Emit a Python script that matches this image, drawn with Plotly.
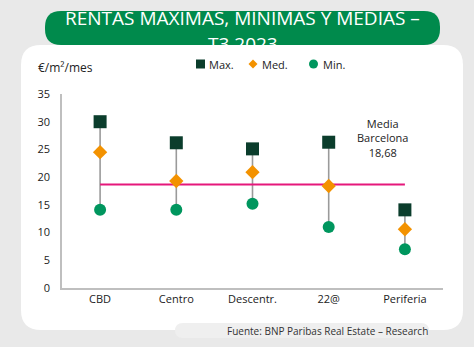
import plotly.graph_objects as go

W, H = 474, 347

categories = ["CBD", "Centro", "Descentr.", "22@", "Periferia"]
max_vals = [30.0, 26.2, 25.1, 26.3, 14.1]
med_vals = [24.5, 19.3, 20.9, 18.4, 10.6]
min_vals = [14.1, 14.1, 15.2, 11.0, 7.0]
media_bcn = 18.68
y_ticks = [0, 5, 10, 15, 20, 25, 30, 35]
series_names = ["Max.", "Med.", "Min."]

C_MAX = "#0b3d2c"
C_MED = "#f39200"
C_MIN = "#00965e"
C_LINE = "#e5177b"
C_GRAY = "#9a9a9a"


def px(x):
    return x / W


def py(y):
    return 1 - y / H


def rrect(x0, y0, x1, y1, r):
    X0, X1 = px(x0), px(x1)
    Y0, Y1 = py(y0), py(y1)
    rx, ry = r / W, r / H
    return (f"M {X0+rx},{Y0} L {X1-rx},{Y0} Q {X1},{Y0} {X1},{Y0-ry} "
            f"L {X1},{Y1+ry} Q {X1},{Y1} {X1-rx},{Y1} L {X0+rx},{Y1} "
            f"Q {X0},{Y1} {X0},{Y1+ry} L {X0},{Y0-ry} Q {X0},{Y0} {X0+rx},{Y0} Z")


fig = go.Figure()

# connectors
for i, c in enumerate(categories):
    fig.add_trace(go.Scatter(x=[c, c], y=[min_vals[i], max_vals[i]], mode="lines",
                             line=dict(color=C_GRAY, width=1.6), showlegend=False,
                             hoverinfo="skip"))

fig.add_trace(go.Scatter(x=[categories[0], categories[-1]], y=[media_bcn, media_bcn],
                         mode="lines", line=dict(color=C_LINE, width=2),
                         showlegend=False, hoverinfo="skip"))

fig.add_trace(go.Scatter(x=categories, y=max_vals, mode="markers", name=series_names[0],
                         marker=dict(symbol="square", size=13, color=C_MAX), showlegend=False))
fig.add_trace(go.Scatter(x=categories, y=med_vals, mode="markers", name=series_names[1],
                         marker=dict(symbol="diamond", size=11, color=C_MED), showlegend=False))
fig.add_trace(go.Scatter(x=categories, y=min_vals, mode="markers", name=series_names[2],
                         marker=dict(symbol="circle", size=12, color=C_MIN), showlegend=False))

shapes = [
    dict(type="path", xref="paper", yref="paper", path=rrect(45, 11, 440, 45, 16),
         fillcolor="#008a4c", line=dict(width=0), layer="below"),
    dict(type="path", xref="paper", yref="paper", path=rrect(21, 45, 463, 330, 20),
         fillcolor="white", line=dict(width=0), layer="below"),
    dict(type="path", xref="paper", yref="paper", path=rrect(175, 323, 429, 338, 8),
         fillcolor="#efefef", line=dict(width=0), layer="below"),
]

# manual legend
LY = 64
shapes.append(dict(type="rect", xref="paper", yref="paper",
                   x0=px(196), x1=px(205), y0=py(LY - 4.5), y1=py(LY + 4.5),
                   fillcolor=C_MAX, line=dict(width=0)))
dx, dy = 4.5, 4.5
shapes.append(dict(type="path", xref="paper", yref="paper",
                   path=f"M {px(253)},{py(LY-dy)} L {px(253+dx)},{py(LY)} L {px(253)},{py(LY+dy)} L {px(253-dx)},{py(LY)} Z",
                   fillcolor=C_MED, line=dict(width=0)))
shapes.append(dict(type="circle", xref="paper", yref="paper",
                   x0=px(309), x1=px(318), y0=py(LY - 4.5), y1=py(LY + 4.5),
                   fillcolor=C_MIN, line=dict(width=0)))

legend_x = [207, 260, 321]

annotations = [
    dict(text="RENTAS MAXIMAS, MINIMAS Y MEDIAS –", x=px(243), y=py(18), xref="paper",
         yref="paper", xanchor="center", yanchor="middle", showarrow=False,
         font=dict(size=19, color="white", family="Open Sans")),
    dict(text="T3 2023", x=px(243), y=py(44), xref="paper", yref="paper",
         xanchor="center", yanchor="middle", showarrow=False,
         font=dict(size=19, color="white", family="Open Sans")),
    dict(text="€/m²/mes", x=px(36), y=py(67), xref="paper", yref="paper", xanchor="left",
         yanchor="middle", showarrow=False, font=dict(size=12, color="#222", family="Open Sans")),
    dict(text="Media<br>Barcelona<br>18,68", x=3.7, y=27.1, xref="x", yref="y",
         xanchor="center", yanchor="middle", showarrow=False,
         font=dict(size=11, color="#222", family="Open Sans")),
    dict(text="Fuente: BNP Paribas Real Estate – Research", x=px(327), y=py(331),
         xref="paper", yref="paper", xanchor="center", yanchor="middle", showarrow=False,
         font=dict(size=10, color="#333", family="Open Sans")),
]
for name, lx in zip(series_names, legend_x):
    annotations.append(dict(text=name, x=px(lx), y=py(LY), xref="paper", yref="paper",
                            xanchor="left", yanchor="middle", showarrow=False,
                            font=dict(size=11, color="#222", family="Open Sans")))

fig.update_layout(
    width=W, height=H, margin=dict(l=0, r=0, t=0, b=0, autoexpand=False),
    paper_bgcolor="#e9e9e9", plot_bgcolor="white",
    shapes=shapes, annotations=annotations,
    font=dict(family="Open Sans", size=11, color="#222"),
    showlegend=False,
    xaxis=dict(domain=[px(62), px(443)], range=[-0.5, 4.5], type="category",
               showline=True, linecolor="#bfbfbf", linewidth=1.5, ticks="",
               showgrid=False, zeroline=False, tickfont=dict(size=11), automargin=False,
               categoryorder="array", categoryarray=categories),
    yaxis=dict(domain=[py(288), py(94)], range=[0, 35], tickvals=y_ticks,
               showline=True, linecolor="#bfbfbf", linewidth=1.5, ticks="",
               showgrid=False, zeroline=False, tickfont=dict(size=11), automargin=False,
               ticklabelstandoff=8),
)

fig.write_html("out.html")
